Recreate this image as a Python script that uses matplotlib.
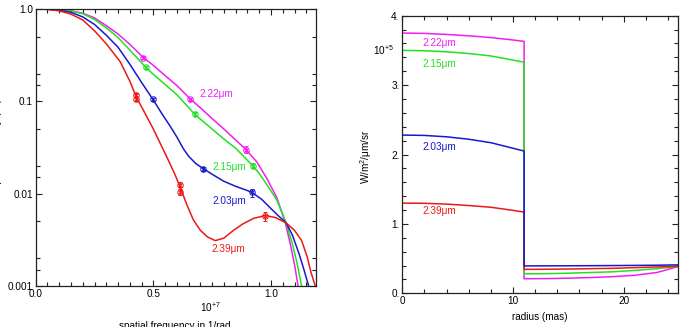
import numpy as np
import matplotlib
matplotlib.use("Agg")
import matplotlib.pyplot as plt
from matplotlib.ticker import FixedLocator, NullFormatter

plt.rcParams['font.family'] = ['Liberation Sans', 'DejaVu Sans']
plt.rcParams['mathtext.fontset'] = 'custom'
plt.rcParams['mathtext.rm'] = 'Liberation Sans'
plt.rcParams['mathtext.it'] = 'Liberation Sans'

# colours of the four wavelengths
c_222 = '#f01ef0'
c_215 = '#22e022'
c_203 = '#1818d0'
c_239 = '#ec1818'

# ---- left panel: squared visibility vs spatial frequency (units of 1e7 1/rad)
f_222 = [0, 0.05, 0.1, 0.15, 0.2, 0.25, 0.3, 0.35, 0.4, 0.458, 0.5, 0.55, 0.6, 0.657, 0.7, 0.75,
         0.8, 0.85, 0.894, 0.94, 0.983, 1.025, 1.061, 1.08, 1.10, 1.115, 1.13]
v_222 = [1.0, 0.996, 0.982, 0.955, 0.90, 0.80, 0.66, 0.535, 0.415, 0.297, 0.245, 0.190, 0.148, 0.106, 0.085, 0.065,
         0.050, 0.038, 0.030, 0.022, 0.0145, 0.0090, 0.0048, 0.0030, 0.0017, 0.0010, 0.0005]
f_215 = [0, 0.05, 0.1, 0.15, 0.2, 0.25, 0.3, 0.35, 0.4, 0.468, 0.5, 0.55, 0.6, 0.675, 0.7, 0.75,
         0.8, 0.85, 0.922, 0.95, 0.98, 1.025, 1.065, 1.09, 1.11, 1.13, 1.145]
v_215 = [1.0, 0.996, 0.98, 0.95, 0.89, 0.77, 0.625, 0.49, 0.36, 0.233, 0.196, 0.152, 0.118, 0.0728, 0.064, 0.050,
         0.039, 0.031, 0.0201, 0.0165, 0.0128, 0.0085, 0.0048, 0.0029, 0.0018, 0.0010, 0.0005]
f_203 = [0, 0.05, 0.1, 0.15, 0.2, 0.25, 0.3, 0.35, 0.401, 0.45, 0.498, 0.54, 0.571, 0.6, 0.628, 0.65,
         0.68, 0.713, 0.75, 0.8, 0.85, 0.9, 0.919, 0.96, 0.997, 1.03, 1.065, 1.09, 1.12, 1.14, 1.16, 1.175]
v_203 = [1.0, 0.994, 0.97, 0.92, 0.82, 0.68, 0.52, 0.385, 0.25, 0.16, 0.105, 0.071, 0.054, 0.041, 0.0305, 0.0254,
         0.0212, 0.0186, 0.0162, 0.0136, 0.0120, 0.0108, 0.0103, 0.0087, 0.0070, 0.0058, 0.0048, 0.0036, 0.0022, 0.0015, 0.0010, 0.0006]
f_239 = [0, 0.05, 0.1, 0.15, 0.2, 0.25, 0.3, 0.359, 0.4, 0.427, 0.46, 0.5, 0.557, 0.59, 0.614, 0.643,
         0.67, 0.70, 0.73, 0.763, 0.80, 0.84, 0.88, 0.926, 0.976, 1.02, 1.065, 1.10, 1.13, 1.153, 1.17, 1.188, 1.20]
v_239 = [1.0, 0.99, 0.955, 0.88, 0.76, 0.58, 0.42, 0.269, 0.165, 0.112, 0.078, 0.050, 0.025, 0.0165, 0.0118, 0.0075,
         0.0052, 0.0040, 0.0034, 0.0031, 0.0033, 0.0040, 0.0047, 0.0054, 0.0058, 0.0055, 0.0048, 0.0040, 0.0031, 0.0021, 0.0014, 0.0010, 0.0007]

# measured points
pf_222 = [0.458, 0.657, 0.894]
pv_222 = [0.297, 0.106, 0.030]
pe_222 = [0.012, 0.004, 0.0025]
pf_215 = [0.468, 0.675, 0.922]
pv_215 = [0.233, 0.0728, 0.0201]
pe_215 = [0.010, 0.003, 0.0012]
pf_203 = [0.498, 0.713, 0.919]
pv_203 = [0.105, 0.0186, 0.0103]
pe_203 = [0.005, 0.0010, 0.0010]
pf_239 = [0.427, 0.427, 0.614, 0.614, 0.976]
pv_239 = [0.117, 0.107, 0.0125, 0.0105, 0.0057]
pe_239 = [0.005, 0.005, 0.0008, 0.0008, 0.0006]

# ---- right panel: intensity profile (units of 1e5 W/m2/um/sr)
r_in = [0, 2, 4, 6, 8, 10, 11]
i_222_in = [3.75, 3.745, 3.73, 3.71, 3.685, 3.65, 3.63]
i_215_in = [3.50, 3.495, 3.48, 3.455, 3.42, 3.36, 3.33]
i_203_in = [2.28, 2.275, 2.255, 2.22, 2.17, 2.09, 2.05]
i_239_in = [1.30, 1.297, 1.285, 1.265, 1.24, 1.195, 1.17]
r_out = [11, 13, 15, 17, 19, 21, 23, 25]
i_222_out = [0.21, 0.212, 0.218, 0.227, 0.24, 0.26, 0.30, 0.39]
i_215_out = [0.28, 0.283, 0.29, 0.30, 0.31, 0.33, 0.355, 0.39]
i_203_out = [0.395, 0.396, 0.397, 0.398, 0.40, 0.402, 0.405, 0.41]
i_239_out = [0.345, 0.347, 0.35, 0.355, 0.36, 0.37, 0.38, 0.39]

labels = ['2.22\u03bcm', '2.15\u03bcm', '2.03\u03bcm', '2.39\u03bcm']

fs = 7.2
lw = 1.1

fig = plt.figure(figsize=(6.84, 3.27), dpi=100)
ax1 = fig.add_axes([0.0522, 0.1254, 0.4094, 0.8471])
ax2 = fig.add_axes([0.5882, 0.103, 0.4030, 0.849])

# left panel
curves = [(f_222, v_222, c_222), (f_215, v_215, c_215), (f_203, v_203, c_203), (f_239, v_239, c_239)]
for f, v, c in curves:
    ax1.plot(f, v, color=c, lw=lw)

points = [(pf_222, pv_222, pe_222, c_222), (pf_215, pv_215, pe_215, c_215),
          (pf_203, pv_203, pe_203, c_203), (pf_239, pv_239, pe_239, c_239)]
for f, v, e, c in points:
    ax1.errorbar(f, v, yerr=e, fmt='o', mfc='none', mec=c, ecolor=c, ms=4, mew=0.7, elinewidth=0.7, capsize=1.2)
    ax1.plot(f, v, 'x', color=c, ms=2.8, mew=0.7)

ax1.set_yscale('log')
ax1.set_xlim(0, 1.19)
ax1.set_ylim(0.001, 1.0)
ax1.set_xticks([0, 0.5, 1.0])
ax1.set_xticklabels(['0.0', '0.5', '1.0'])
ax1.xaxis.set_minor_locator(FixedLocator(np.arange(0, 1.2, 0.05)))
ax1.set_yticks([0.001, 0.01, 0.1, 1.0])
ax1.set_yticklabels(['0.001', '0.01', '0.1', '1.0'])
minor_y = [m * d for d in [0.001, 0.01, 0.1] for m in [1.5, 2, 5]]
ax1.yaxis.set_minor_locator(FixedLocator(minor_y))
ax1.yaxis.set_minor_formatter(NullFormatter())

ax1.text(0.696, 0.119, labels[0], color=c_222, fontsize=fs, va='center')
ax1.text(0.751, 0.0196, labels[1], color=c_215, fontsize=fs, va='center')
ax1.text(0.751, 0.0084, labels[2], color=c_203, fontsize=fs, va='center')
ax1.text(0.745, 0.0025, labels[3], color=c_239, fontsize=fs, va='center')

fig.text(210 / 684, 1 - 307 / 327, r'10$^{+7}$', fontsize=fs, ha='center', va='center')
fig.text(175 / 684, 1 - 321 / 327, 'spatial frequency in 1/rad', fontsize=fs, ha='center', va='top')
fig.text(5 / 684, 1 - 145 / 327, 'squared visibility (V$^{2}$)', fontsize=fs, rotation=90, ha='right', va='center')

# right panel
profiles = [(i_222_in, i_222_out, c_222), (i_215_in, i_215_out, c_215),
            (i_239_in, i_239_out, c_239), (i_203_in, i_203_out, c_203)]
for pin, pout, c in profiles:
    ax2.plot(r_in + r_out, pin + pout, color=c, lw=lw)

ax2.set_xlim(0, 24.9)
ax2.set_ylim(0, 4)
ax2.set_xticks([0, 10, 20])
ax2.xaxis.set_minor_locator(FixedLocator(np.arange(0, 25, 2)))
ax2.set_yticks([0, 1, 2, 3, 4])
ax2.set_yticklabels(['0.', '1.', '2.', '3.', '4.'])
ax2.yaxis.set_minor_locator(FixedLocator(np.arange(0, 4.01, 0.2)))

ax2.text(1.8, 3.61, labels[0], color=c_222, fontsize=fs, va='center')
ax2.text(1.8, 3.31, labels[1], color=c_215, fontsize=fs, va='center')
ax2.text(1.8, 2.11, labels[2], color=c_203, fontsize=fs, va='center')
ax2.text(1.8, 1.18, labels[3], color=c_239, fontsize=fs, va='center')

fig.text(383 / 684, 1 - 50 / 327, r'10$^{+5}$', fontsize=fs, ha='center', va='center')
ax2.set_xlabel('radius (mas)', fontsize=fs, labelpad=4)
fig.text(366 / 684, 1 - 157 / 327, 'W/m$^{2}$/\u03bcm/sr', fontsize=fs, rotation=90, ha='center', va='center')

for ax in (ax1, ax2):
    ax.tick_params(which='both', direction='in', top=True, right=True, labelsize=fs, width=0.8, colors='#222222', labelcolor='black')
    ax.tick_params(which='major', length=4.5, pad=2)
    ax.tick_params(which='minor', length=3)
    for s in ax.spines.values():
        s.set_linewidth(0.9)
        s.set_color('#222222')

fig.savefig('out.png', dpi=100)
